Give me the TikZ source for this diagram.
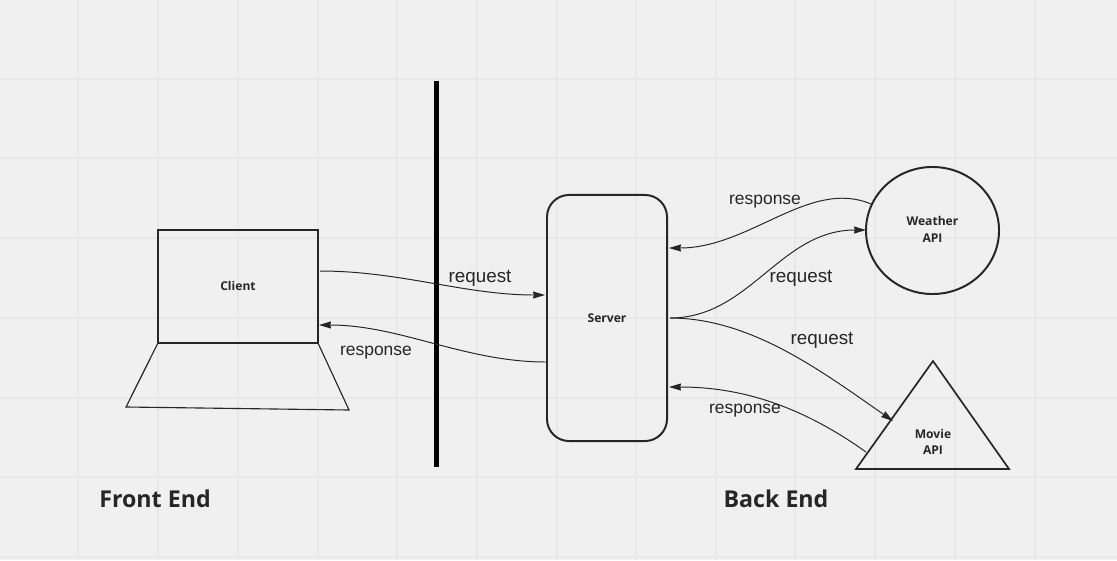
\documentclass[tikz,border=0pt]{standalone}
\usepackage{fontspec}
\setmainfont{Open Sans}
\newfontfamily\labelfont{Liberation Sans}
\usetikzlibrary{positioning,shapes.geometric,arrows.meta}
\definecolor{paper}{HTML}{F0F0F0}
\definecolor{gridline}{HTML}{E8E8E8}
\definecolor{ink}{HTML}{262626}
\tikzstyle{struct}=[rectangle, draw=ink, line width=1.4pt, text centered, text=ink, inner sep=0pt, outer sep=0pt, font=\bfseries\fontsize{8.6}{11.5}\selectfont]
\tikzstyle{screen}=[struct, minimum width=4cm, minimum height=2.825cm]
\tikzstyle{backend}=[struct, rounded corners=0.55cm, minimum width=3cm, minimum height=6.15cm]
\tikzstyle{api}=[struct, ellipse, minimum width=3.325cm, minimum height=3.175cm]
\tikzstyle{apitext}=[struct, draw=none, align=center]
\tikzstyle{link}=[draw=ink, line width=0.7pt, -{Stealth[length=8.5pt,width=5pt,inset=0.5pt]}]
\tikzstyle{req}=[text=ink, font=\labelfont\fontsize{13.4}{16}\selectfont]
\tikzstyle{resp}=[text=ink, font=\labelfont\fontsize{12.4}{15}\selectfont]
\tikzstyle{side}=[text=ink, font=\bfseries\fontsize{16.5}{20}\selectfont]
\begin{document}
\begin{tikzpicture}[x=0.025cm,y=-0.025cm]
        \fill[paper] (0,0) rectangle (1117,560);
        \useasboundingbox (0,0) rectangle (1117,560);
        \foreach \gx in {78,158,238,318,397,477,557,636,716,795,875,955,1035}
            \draw[gridline, line width=0.8pt] (\gx,0) -- (\gx,560);
        \foreach \gy in {79,158,238,318,398,477,557}
            \draw[gridline, line width=0.8pt] (0,\gy) -- (1117,\gy);
        % laptop
        \node(client)[screen] at (238,286.5) {
            \raisebox{1.1pt}{Client}
        };
        \coordinate(baseleft) at (126,407);
        \coordinate(baseright) at (349,410);
        \draw[draw=ink, line width=0.8pt] (client.south west) -- (baseleft) -- (baseright) -- (client.south east);
        % divider
        \coordinate(bartop) at (436.5,81);
        \coordinate(barbottom) at (436.5,467);
        \draw[black, line width=3.1pt] (bartop) -- (barbottom);
        \node(server)[backend] at (607,318) {
            Server
        };
        \node(weather)[api] at (932.5,230.5) {};
        \node(weathertext)[apitext] at (932.5,229) {
            Weather\\[0.5pt]API
        };
        % triangle
        \coordinate(moviepeak) at (933,361);
        \coordinate(movieleft) at (856,469);
        \coordinate(movieright) at (1009,469);
        \draw[draw=ink, line width=1.2pt, line join=miter] (moviepeak) -- (movieright) -- (movieleft) -- cycle;
        \node(movie)[apitext] at (933,442) {
            Movie\\API
        };
        % connector ends
        \coordinate(clientout) at (320,271);
        \coordinate(clientin) at (319,325);
        \coordinate(serverin) at (545,295);
        \coordinate(serverout) at (546,362);
        \coordinate(serverright) at (670,318);
        \coordinate(servertop) at (669,248);
        \coordinate(serverbottom) at (669,387);
        \coordinate(weatherin) at (866,230);
        \coordinate(weatherout) at (871,204);
        \coordinate(moviein) at (893,421);
        \coordinate(movieout) at (866,452);
        \draw[link] (clientout) .. controls (400,271) and (465,295) .. (serverin);
        \draw[link] (serverout) .. controls (465,362) and (400,325) .. (clientin);
        \draw[link] (weatherout) .. controls (810,178) and (750,248) .. (servertop);
        \draw[link] (serverright) .. controls (750,318) and (780,230) .. (weatherin);
        \draw[link] (serverright) .. controls (750,318) and (820,370) .. (moviein);
        \draw[link] (movieout) .. controls (800,405) and (740,387) .. (serverbottom);
        % labels
        \node(clientreq)[req] at (480,278) {request};
        \node(clientresp)[resp] at (376,353) {response};
        \node(weatherresp)[resp] at (765,202) {response};
        \node(weatherreq)[req] at (801,278) {request};
        \node(moviereq)[req] at (822,340) {request};
        \node(movieresp)[resp] at (745,411) {response};
        \node(frontend)[side] at (155,499) {Front End};
        \node(backend)[side] at (776,499) {Back End};
    \end{tikzpicture}
\end{document}
